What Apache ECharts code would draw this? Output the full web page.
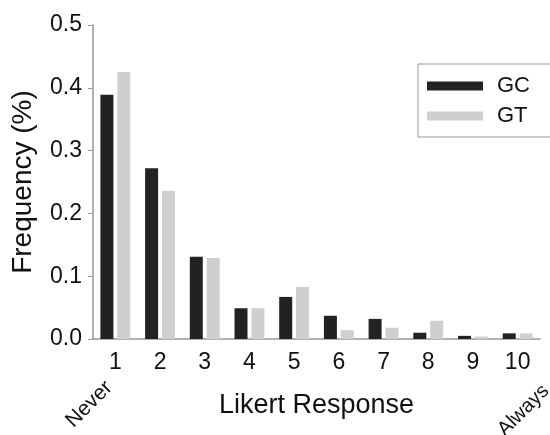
<!DOCTYPE html>
<html>
<head>
<meta charset="utf-8">
<script src="https://cdn.jsdelivr.net/npm/echarts@6/dist/echarts.min.js"></script>
<style>
  html, body { margin: 0; padding: 0; background: #fff; }
  #chart { width: 550px; height: 435px; }
</style>
</head>
<body>
<div id="chart"></div>
<script>
// Likert categories and frequencies
var categories = ['1', '2', '3', '4', '5', '6', '7', '8', '9', '10'];
var gcValues = [0.389, 0.272, 0.131, 0.049, 0.067, 0.037, 0.032, 0.010, 0.005, 0.009];
var gtValues = [0.425, 0.236, 0.129, 0.049, 0.083, 0.014, 0.018, 0.029, 0.004, 0.009];
var seriesNames = ['GC', 'GT'];

var font = 'Liberation Sans, Arial, sans-serif';
var chart = echarts.init(document.getElementById('chart'));

var option = {
  animation: false,
  grid: { left: 93, right: 10, top: 25, bottom: 96, outerBoundsMode: 'none', containLabel: false },
  legend: {
    data: seriesNames,
    orient: 'vertical',
    left: 418,
    top: 64,
    padding: [11, 40, 10, 9],
    itemGap: 8,
    itemWidth: 56,
    itemHeight: 9,
    icon: 'rect',
    borderColor: '#999',
    borderWidth: 1,
    textStyle: { fontFamily: font, fontSize: 22, color: '#111', padding: [0, 0, 0, 9] }
  },
  xAxis: {
    type: 'category',
    data: categories,
    name: 'Likert Response',
    nameLocation: 'middle',
    nameGap: 53,
    nameTextStyle: { fontFamily: font, fontSize: 27, color: '#111' },
    axisLine: { lineStyle: { color: '#999', width: 1.5 } },
    axisTick: { alignWithLabel: true, length: 5, lineStyle: { color: '#999' } },
    axisLabel: { fontFamily: font, fontSize: 23, color: '#111', margin: 12 }
  },
  yAxis: {
    type: 'value',
    min: 0,
    max: 0.5,
    interval: 0.1,
    name: 'Frequency (%)',
    nameLocation: 'middle',
    nameGap: 56,
    nameTextStyle: { fontFamily: font, fontSize: 28, color: '#111' },
    splitLine: { show: false },
    axisLine: { show: true, lineStyle: { color: '#999', width: 1.5 } },
    axisTick: { show: true, length: 5, lineStyle: { color: '#999' } },
    axisLabel: {
      fontFamily: font, fontSize: 23, color: '#111', margin: 11,
      formatter: function (v) { return v.toFixed(1); }
    }
  },
  series: [
    {
      name: seriesNames[0],
      type: 'bar',
      data: gcValues,
      barWidth: 13,
      barGap: '30%',
      itemStyle: { color: '#222222' }
    },
    {
      name: seriesNames[1],
      type: 'bar',
      data: gtValues,
      barWidth: 13,
      itemStyle: { color: '#cfcfcf' }
    }
  ],
  graphic: [
    {
      type: 'text',
      left: 62,
      top: 377,
      rotation: Math.PI / 4,
      style: { text: 'Never', font: '21px ' + font, fill: '#111' }
    },
    {
      type: 'text',
      left: 494,
      top: 381,
      rotation: Math.PI / 4,
      style: { text: 'Always', font: '20px ' + font, fill: '#111' }
    }
  ]
};

chart.setOption(option);
</script>
</body>
</html>
